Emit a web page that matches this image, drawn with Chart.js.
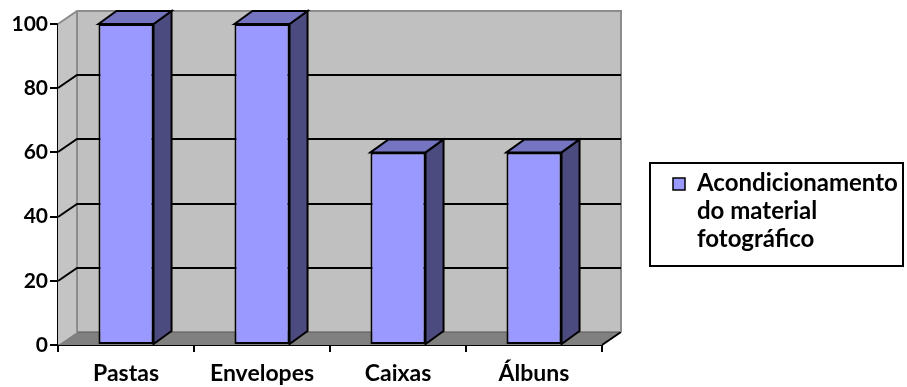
<!DOCTYPE html>
<html>
<head>
<meta charset="utf-8">
<title>Acondicionamento do material fotográfico</title>
<script src="https://cdn.jsdelivr.net/npm/chart.js@4/dist/chart.umd.min.js"></script>
<style>
  html, body { margin: 0; padding: 0; background: #fff; }
  #wrap { width: 907px; height: 387px; }
</style>
</head>
<body>
<div id="wrap"><canvas id="chart" width="907" height="387"></canvas></div>
<script>
// data
var categories = ['Pastas', 'Envelopes', 'Caixas', 'Álbuns'];
var values = [100, 100, 60, 60];
var seriesName = 'Acondicionamento do material fotográfico';
var yTicks = [0, 20, 40, 60, 80, 100];

var FONT = 'Lato, "Open Sans", sans-serif';
var DX = 19, DY = 13;          // 3d depth offset
var BAR_DX = 18;

// walls, floor and back gridlines behind the bars
var walls3d = {
  id: 'walls3d',
  beforeDatasetsDraw: function (chart) {
    var ctx = chart.ctx, a = chart.chartArea, y = chart.scales.y;
    var l = a.left, r = a.right, b = a.bottom, t = a.top;
    ctx.save();
    // back wall
    ctx.fillStyle = '#c0c0c0';
    ctx.fillRect(l + DX, t - DY, r - l, b - t);
    // left side wall
    ctx.beginPath();
    ctx.moveTo(l, t); ctx.lineTo(l + DX, t - DY);
    ctx.lineTo(l + DX, b - DY); ctx.lineTo(l, b);
    ctx.closePath();
    ctx.fillStyle = '#c4c4c4';
    ctx.fill();
    // floor
    ctx.beginPath();
    ctx.moveTo(l, b); ctx.lineTo(r, b);
    ctx.lineTo(r + DX, b - DY); ctx.lineTo(l + DX, b - DY);
    ctx.closePath();
    ctx.fillStyle = '#808080';
    ctx.fill();
    ctx.lineWidth = 1;
    ctx.strokeStyle = '#555';
    ctx.beginPath();
    ctx.moveTo(l + DX, b - DY); ctx.lineTo(r + DX, b - DY);
    ctx.stroke();
    ctx.lineWidth = 2;
    ctx.strokeStyle = '#000';
    ctx.beginPath();
    ctx.moveTo(r, b); ctx.lineTo(r + DX, b - DY);
    ctx.stroke();
    // wall edges
    ctx.strokeStyle = '#8c8c8c';
    ctx.beginPath();
    ctx.moveTo(l, t); ctx.lineTo(l + DX, t - DY); ctx.lineTo(r + DX, t - DY);
    ctx.lineTo(r + DX, b - DY);
    ctx.moveTo(l + DX, t - DY); ctx.lineTo(l + DX, b - DY);
    ctx.stroke();
    // gridlines
    ctx.strokeStyle = '#000';
    ctx.lineWidth = 2;
    yTicks.forEach(function (v) {
      if (v === 0 || v === 100) return;
      var py = Math.round(y.getPixelForValue(v));
      ctx.beginPath();
      ctx.moveTo(l, py);
      ctx.lineTo(l + DX, py - DY);
      ctx.lineTo(r + DX, py - DY);
      ctx.stroke();
    });
    ctx.restore();
  },
  // side and top faces of each bar
  afterDatasetsDraw: function (chart) {
    var ctx = chart.ctx;
    var meta = chart.getDatasetMeta(0);
    ctx.save();
    ctx.lineWidth = 2;
    ctx.strokeStyle = '#000';
    ctx.lineJoin = 'miter';
    meta.data.forEach(function (bar) {
      var p = bar.getProps(['x', 'y', 'base', 'width'], true);
      var x0 = p.x - p.width / 2, x1 = p.x + p.width / 2;
      var top = p.y, base = p.base;
      // side
      ctx.beginPath();
      ctx.moveTo(x1, top); ctx.lineTo(x1 + BAR_DX, top - DY);
      ctx.lineTo(x1 + BAR_DX, base - DY); ctx.lineTo(x1, base);
      ctx.closePath();
      ctx.fillStyle = '#4b4b80';
      ctx.fill(); ctx.stroke();
      // top
      ctx.beginPath();
      ctx.moveTo(x0, top); ctx.lineTo(x0 + BAR_DX, top - DY);
      ctx.lineTo(x1 + BAR_DX, top - DY); ctx.lineTo(x1, top);
      ctx.closePath();
      ctx.fillStyle = '#7474c0';
      ctx.fill(); ctx.stroke();
    });
    ctx.restore();
  }
};

// boxed legend with wrapped label
var boxLegend = {
  id: 'boxLegend',
  afterDraw: function (chart) {
    var ctx = chart.ctx;
    var ds = chart.data.datasets[0];
    ctx.save();
    ctx.fillStyle = '#fff';
    ctx.fillRect(650, 163, 253, 103);
    ctx.lineWidth = 2;
    ctx.strokeStyle = '#000';
    ctx.strokeRect(650, 163, 253, 103);
    ctx.fillStyle = ds.backgroundColor;
    ctx.fillRect(673, 178, 12, 12);
    ctx.lineWidth = 1.5;
    ctx.strokeRect(673, 178, 12, 12);
    ctx.font = 'bold 24px ' + FONT;
    ctx.fillStyle = '#000';
    ctx.textBaseline = 'alphabetic';
    var words = ds.label.split(' '), lines = [], cur = '';
    words.forEach(function (w) {
      var test = cur ? cur + ' ' + w : w;
      if (cur && ctx.measureText(test).width > 205) { lines.push(cur); cur = w; }
      else cur = test;
    });
    lines.push(cur);
    lines.forEach(function (s, i) {
      ctx.fillText(s, 697, 191 + i * 28);
    });
    ctx.restore();
  }
};

new Chart(document.getElementById('chart'), {
  type: 'bar',
  data: {
    labels: categories,
    datasets: [{
      label: seriesName,
      data: values,
      backgroundColor: '#9999ff',
      borderColor: '#000',
      borderWidth: 2,
      borderSkipped: false,
      categoryPercentage: 1,
      barPercentage: 0.405
    }]
  },
  options: {
    responsive: false,
    animation: false,
    layout: { padding: { top: 24, right: 305, left: 0, bottom: 0 } },
    plugins: { legend: { display: false }, tooltip: { enabled: false } },
    scales: {
      x: {
        grid: { drawOnChartArea: false, drawTicks: true, tickLength: 7, color: '#000', lineWidth: 2 },
        border: { display: true, color: '#000', width: 2 },
        ticks: { color: '#000', padding: 8, font: { family: FONT, size: 23, weight: 'bold' } },
        afterFit: function (s) { s.height = 42; }
      },
      y: {
        min: 0, max: 100,
        ticks: { stepSize: 20, color: '#000', padding: 2, font: { family: FONT, size: 21, weight: 'bold' } },
        grid: { drawOnChartArea: false, drawTicks: true, tickLength: 8, color: '#000', lineWidth: 2 },
        border: { display: true, color: '#000', width: 2 },
        afterFit: function (s) { s.width = 58; }
      }
    }
  },
  plugins: [walls3d, boxLegend]
});
</script>
</body>
</html>
